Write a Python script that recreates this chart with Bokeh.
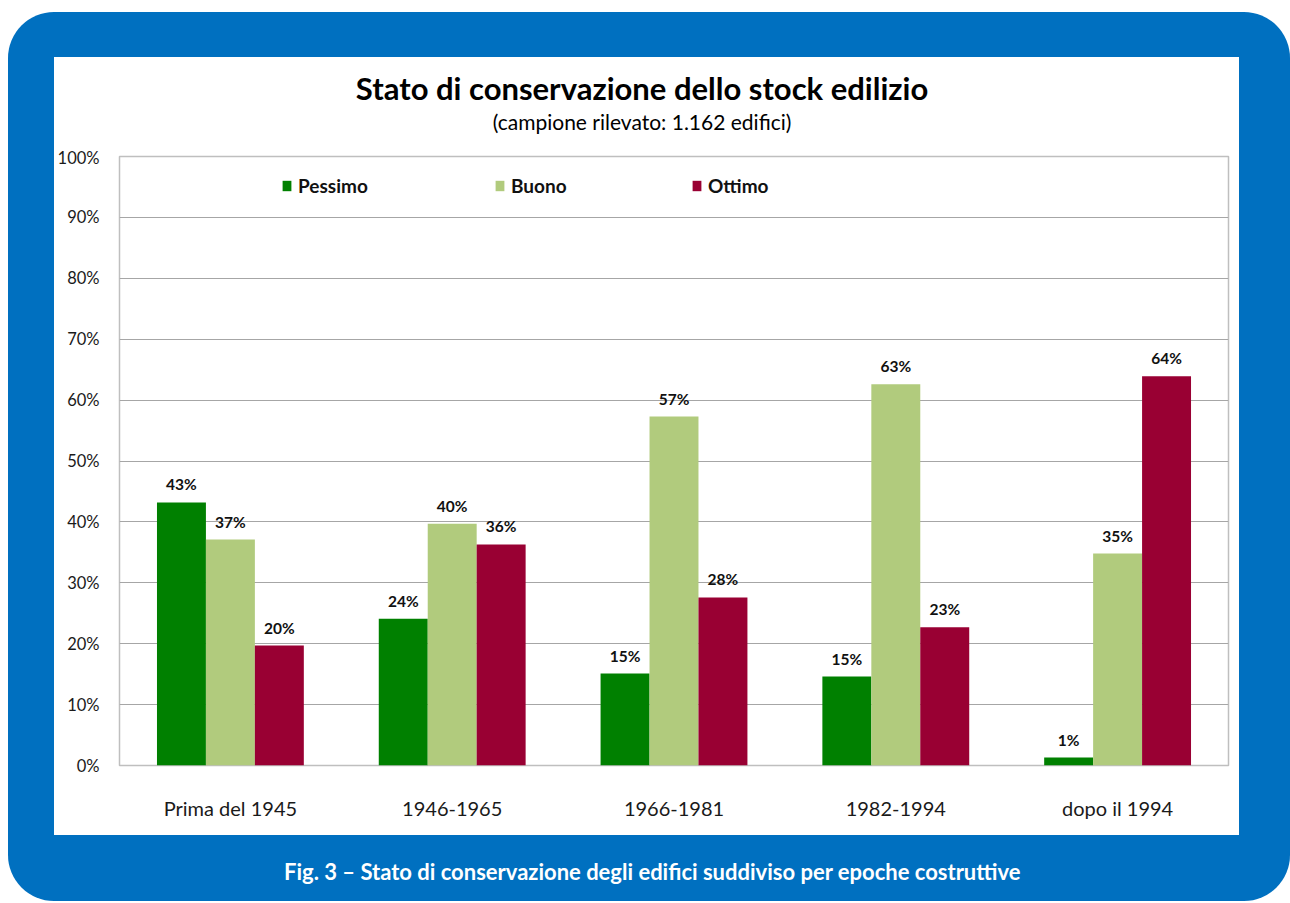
from bokeh.plotting import figure
from bokeh.models import (FactorRange, ColumnDataSource, Legend, LegendItem, FixedTicker,
                          CustomJSTickFormatter, Spacer)
from bokeh.layouts import column, row
from bokeh.transform import dodge
from bokeh.core.properties import value
from bokeh.embed import file_html
from bokeh.resources import INLINE

# ---- data ----
categories = ["Prima del 1945", "1946-1965", "1966-1981", "1982-1994", "dopo il 1994"]
pessimo = [0.432, 0.241, 0.151, 0.146, 0.013]
buono = [0.371, 0.397, 0.573, 0.626, 0.348]
ottimo = [0.197, 0.363, 0.276, 0.227, 0.639]
series_names = ["Pessimo", "Buono", "Ottimo"]
series_colors = ["#008000", "#B1CB7D", "#990033"]
y_ticks = [0, 0.1, 0.2, 0.3, 0.4, 0.5, 0.6, 0.7, 0.8, 0.9, 1.0]
title_text = "Stato di conservazione dello stock edilizio"
subtitle_text = "(campione rilevato: 1.162 edifici)"
caption_text = "Fig. 3 \u2013 Stato di conservazione degli edifici suddiviso per epoche costruttive"

FONT = "Lato"
BLUE = "#0070C0"
PW = 1185          # white panel width
BL, BR = 64, 11    # left / right borders shared by all panels
FW = PW - BL - BR  # frame width
TH, MH, CH = 90, 688, 66   # title / main / caption heights


def blank(h, bg):
    f = figure(width=PW, height=h, x_range=(0, FW), y_range=(h, 0),
               x_axis_type=None, y_axis_type=None, output_backend="svg",
               toolbar_location=None,
               min_border_left=BL, min_border_right=BR, min_border_top=0, min_border_bottom=0)
    f.outline_line_color = None
    f.background_fill_color = bg
    f.border_fill_color = bg
    return f


# ---- title panel ----
tf = blank(TH, "white")
tf.text(x=[523], y=[30], text=[title_text], text_font=value(FONT), text_font_style="bold",
        text_font_size="31px", text_color="#000000", text_align="center",
        text_baseline="middle")
tf.text(x=[523], y=[64], text=[subtitle_text], text_font=value(FONT),
        text_font_size="21px", text_color="#000000", text_align="center",
        text_baseline="middle")

# ---- main chart ----
p = figure(width=PW, height=MH, x_range=FactorRange(*categories), y_range=(0, 1.0),
           output_backend="svg", toolbar_location=None,
           min_border_left=BL, min_border_right=BR, min_border_top=9, min_border_bottom=70)
p.border_fill_color = "white"
p.background_fill_color = "white"
p.outline_line_color = "#BFBFBF"
p.outline_line_width = 1.5

src = ColumnDataSource(dict(cat=categories, Pessimo=pessimo, Buono=buono, Ottimo=ottimo,
                            lp=[f"{round(v*100):d}%" for v in pessimo],
                            lb=[f"{round(v*100):d}%" for v in buono],
                            lo=[f"{round(v*100):d}%" for v in ottimo]))

bw = 0.2207
offsets = [-bw, 0.0, bw]
label_cols = ["lp", "lb", "lo"]
legend_x = [162, 375, 572]
for name, col, off, lc, lx in zip(series_names, series_colors, offsets, label_cols, legend_x):
    r = p.vbar(x=dodge("cat", off, range=p.x_range), top=name, width=bw, source=src,
               fill_color=col, line_color=None)
    p.text(x=dodge("cat", off, range=p.x_range), y=name, text=lc, source=src,
           text_font=value(FONT), text_font_style="bold", text_font_size="15.5px",
           text_color="#111111", text_align="center", text_baseline="middle",
           y_offset=-18)
    lg = Legend(items=[LegendItem(label=name, renderers=[r])], location=(lx, 568),
                label_standoff=6, glyph_width=11, glyph_height=13,
                padding=0, margin=0, border_line_alpha=0, background_fill_alpha=0,
                label_text_font=FONT, label_text_font_style="bold",
                label_text_font_size="19px", label_text_color="#111111")
    p.add_layout(lg, "center")

p.yaxis.ticker = FixedTicker(ticks=y_ticks)
p.yaxis.formatter = CustomJSTickFormatter(code="return Math.round(tick*100) + '%';")
p.yaxis.major_label_text_font = FONT
p.yaxis.major_label_text_font_size = "16.5px"
p.yaxis.major_label_text_color = "#1a1a1a"
p.yaxis.major_label_standoff = 14
p.yaxis.major_tick_line_color = None
p.yaxis.minor_tick_line_color = None
p.yaxis.axis_line_color = None

p.xaxis.major_label_text_font = FONT
p.xaxis.major_label_text_font_size = "20px"
p.xaxis.major_label_text_color = "#1a1a1a"
p.xaxis.major_label_standoff = 24
p.xaxis.major_tick_line_color = None
p.xaxis.axis_line_color = None

p.xgrid.grid_line_color = None
p.ygrid.grid_line_color = "#A6A6A6"
p.ygrid.grid_line_width = 1.2
p.x_range.range_padding = 0

# ---- caption panel ----
cf = blank(CH, BLUE)
cf.text(x=[534], y=[36], text=[caption_text], text_font=value(FONT), text_font_style="bold",
        text_font_size="22px", text_color="white", text_align="center",
        text_baseline="middle")

white_panel = column(tf, p, spacing=0, styles={"background-color": "white"})
inner = column(white_panel, cf, spacing=0)
blue_box = column(Spacer(height=45, width=10),
                  row(Spacer(width=46, height=10), inner, Spacer(width=51, height=10), spacing=0),
                  spacing=0,
                  styles={"background-color": BLUE, "border-radius": "46px"})
page = column(Spacer(height=12, width=10),
              row(Spacer(width=8, height=10), blue_box, spacing=0),
              spacing=0)

open("out.html", "w").write(file_html(page, INLINE))
